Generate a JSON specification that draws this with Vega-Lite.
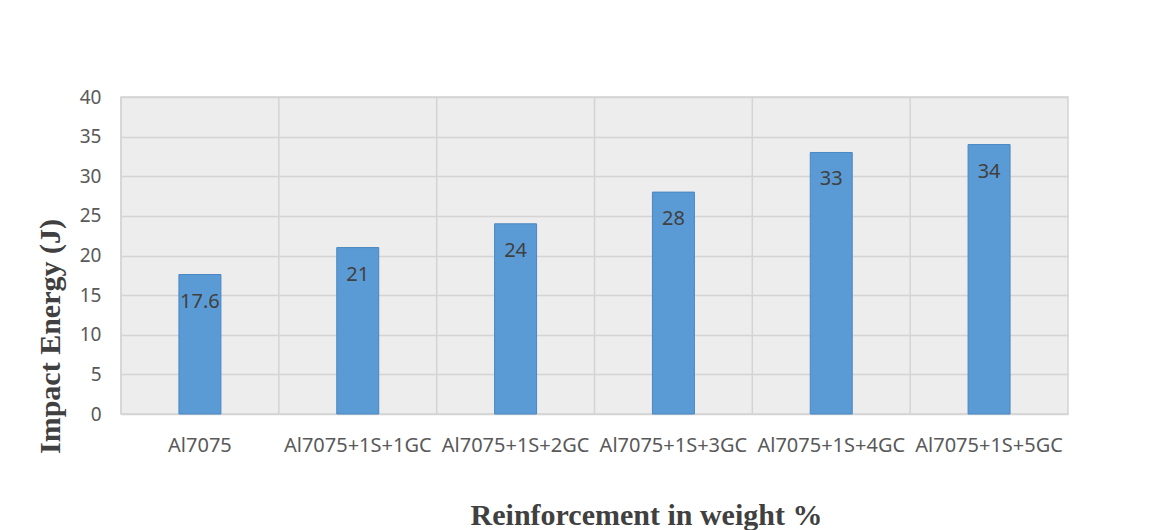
{
  "$schema": "https://vega.github.io/schema/vega-lite/v6.json",
  "width": 947,
  "height": 317,
  "autosize": "none",
  "padding": {"left": 121, "top": 97, "right": 99, "bottom": 116},
  "background": "white",
  "config": {
    "view": {"fill": "#ededed", "stroke": "#d4d4d4", "strokeWidth": 1.5}
  },
  "data": {
    "values": [
      {"cat": "Al7075", "energy": 17.6, "label": "17.6"},
      {"cat": "Al7075+1S+1GC", "energy": 21, "label": "21"},
      {"cat": "Al7075+1S+2GC", "energy": 24, "label": "24"},
      {"cat": "Al7075+1S+3GC", "energy": 28, "label": "28"},
      {"cat": "Al7075+1S+4GC", "energy": 33, "label": "33"},
      {"cat": "Al7075+1S+5GC", "energy": 34, "label": "34"}
    ]
  },
  "encoding": {
    "x": {
      "field": "cat",
      "type": "nominal",
      "sort": null,
      "scale": {"paddingInner": 0, "paddingOuter": 0},
      "axis": {
        "title": "Reinforcement in weight %",
        "titleFont": "Liberation Serif",
        "titleFontSize": 30,
        "titleFontWeight": "bold",
        "titleColor": "#404040",
        "titleX": 525,
        "titleY": 110,
        "titleBaseline": "alphabetic",
        "titleAlign": "center",
        "labelAngle": 0,
        "labelFont": "Noto Sans",
        "labelFontSize": 20,
        "labelColor": "#595959",
        "labelPadding": 21,
        "labelOverlap": false,
        "labelBound": false,
        "labelFlush": false,
        "ticks": false,
        "domain": false,
        "grid": false
      }
    },
    "y": {
      "field": "energy",
      "type": "quantitative",
      "scale": {"domain": [0, 40], "nice": false},
      "axis": {
        "title": "Impact Energy (J)",
        "titleFont": "Liberation Serif",
        "titleFontSize": 30,
        "titleFontWeight": "bold",
        "titleColor": "#404040",
        "titleAngle": -90,
        "titleX": -71,
        "titleY": 239,
        "titleAlign": "center",
        "titleBaseline": "middle",
        "values": [0, 5, 10, 15, 20, 25, 30, 35, 40],
        "labelOverlap": false,
        "labelFont": "Noto Sans",
        "labelFontSize": 19,
        "labelColor": "#595959",
        "labelPadding": 20,
        "ticks": false,
        "domain": false,
        "grid": true,
        "gridColor": "#d4d4d4",
        "gridWidth": 1.5
      }
    }
  },
  "layer": [
    {
      "mark": {"type": "rule", "color": "#d4d4d4", "strokeWidth": 1.5},
      "encoding": {
        "x": {"field": "cat", "type": "nominal", "sort": null, "bandPosition": 0},
        "y": {"datum": 0},
        "y2": {"datum": 40}
      }
    },
    {
      "mark": {"type": "bar", "color": "#5b9bd5", "stroke": "#4a87c2", "strokeWidth": 1, "width": {"band": 0.266}}
    },
    {
      "mark": {"type": "text", "font": "Noto Sans", "fontSize": 20, "color": "#404040", "baseline": "middle", "dy": 27},
      "encoding": {
        "text": {"field": "label"}
      }
    }
  ]
}
